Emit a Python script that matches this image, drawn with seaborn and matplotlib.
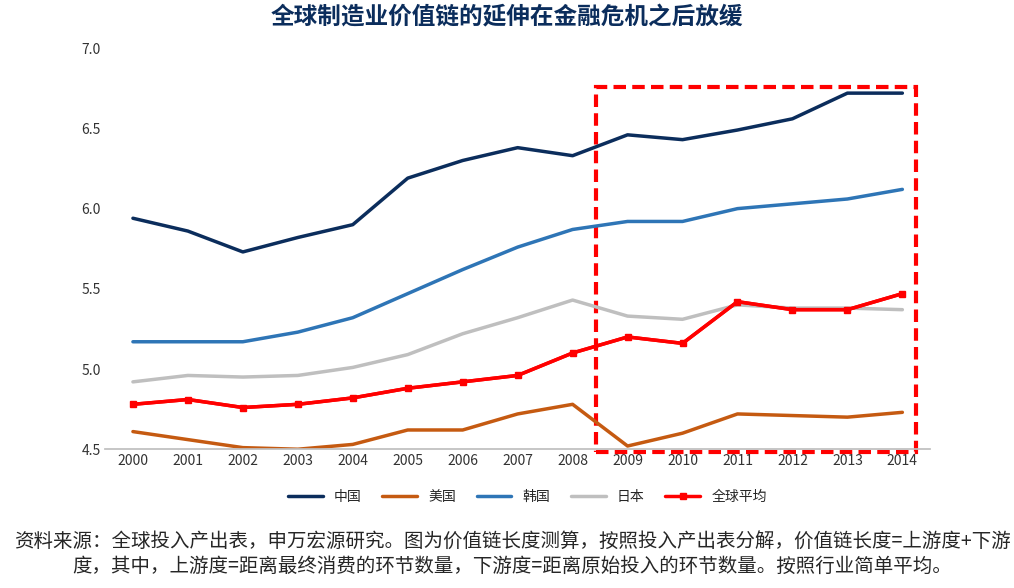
import matplotlib
matplotlib.use("Agg")
import matplotlib.pyplot as plt
import seaborn as sns
import pandas as pd
from matplotlib.patches import Rectangle

years = list(range(2000, 2015))
china = [5.94,5.86,5.73,5.82,5.90,6.19,6.30,6.38,6.33,6.46,6.43,6.49,6.56,6.72,6.72]
usa = [4.61,4.56,4.51,4.50,4.53,4.62,4.62,4.72,4.78,4.52,4.60,4.72,4.71,4.70,4.73]
korea = [5.17,5.17,5.17,5.23,5.32,5.47,5.62,5.76,5.87,5.92,5.92,6.00,6.03,6.06,6.12]
japan = [4.92,4.96,4.95,4.96,5.01,5.09,5.22,5.32,5.43,5.33,5.31,5.40,5.38,5.38,5.37]
world = [4.78,4.81,4.76,4.78,4.82,4.88,4.92,4.96,5.10,5.20,5.16,5.42,5.37,5.37,5.47]
names = ["中国","美国","韩国","日本","全球平均"]
colors = ["#0b2d5c","#c55a11","#2e75b6","#bfbfbf","#ff0000"]

sns.set_theme(style="white")
plt.rcParams['font.family'] = ['Noto Sans CJK SC', 'DejaVu Sans']

df = pd.DataFrame({"year": years*5,
                   "value": china+usa+korea+japan+world,
                   "series": sum([[n]*15 for n in names], [])})

fig = plt.figure(figsize=(10.14,5.88), dpi=100)
ax = fig.add_axes([0.104, 0.236, 0.813, 0.682])
sns.lineplot(data=df, x="year", y="value", hue="series", palette=colors,
             hue_order=names, linewidth=2.5, ax=ax, legend=False)
ax.plot(years, world, color="#ff0000", marker="s", markersize=4, linewidth=2.5)
ax.set_xlim(1999.5, 2014.5)
ax.set_ylim(4.5, 7.0)
ax.set_xticks(years)
ax.set_yticks([4.5,5.0,5.5,6.0,6.5,7.0])
ax.set_yticklabels(["4.5","5.0","5.5","6.0","6.5","7.0"])
ax.tick_params(labelsize=10, colors="#333333", length=0)
ax.set_xlabel(""); ax.set_ylabel("")
for s in ["top","right","left"]:
    ax.spines[s].set_visible(False)
ax.spines["bottom"].set_color("#bfbfbf")
ax.add_patch(Rectangle((2008.42, 4.48), 5.83, 2.28, fill=False, edgecolor="#ff0000",
                       linestyle=(0,(3,1.5)), linewidth=3, clip_on=False))
handles = [plt.Line2D([],[],color=c,lw=2.5, marker=("s" if n=="全球平均" else None), markersize=4) for n,c in zip(names,colors)]
fig.legend(handles, names, loc="center", bbox_to_anchor=(0.52, 0.155), ncol=5, frameon=False,
           fontsize=10, handlelength=2.5, columnspacing=1.5)
fig.suptitle("全球制造业价值链的延伸在金融危机之后放缓", x=0.5, y=0.99, fontsize=17,
             fontweight="bold", color="#0b2d5c")
fig.text(0.505, 0.058, "资料来源：全球投入产出表，申万宏源研究。图为价值链长度测算，按照投入产出表分解，价值链长度=上游度+下游\n度，其中，上游度=距离最终消费的环节数量，下游度=距离原始投入的环节数量。按照行业简单平均。",
         ha="center", va="center", fontsize=14, linespacing=1.2)
fig.savefig("out.png", dpi=100)
